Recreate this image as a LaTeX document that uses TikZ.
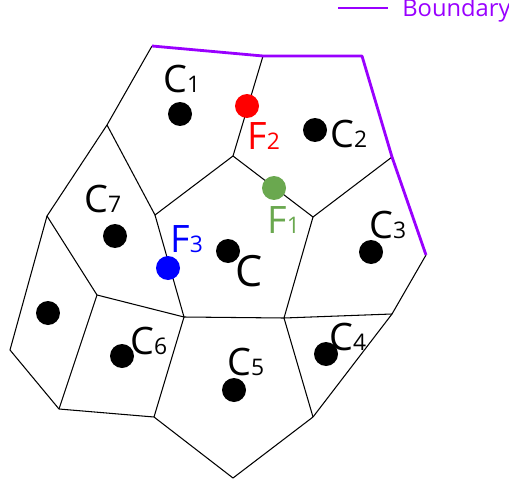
\documentclass[tikz,border=0pt]{standalone}
\usepackage{fontspec}
\setmainfont{Open Sans}
\definecolor{bndviolet}{RGB}{153,0,255}
\definecolor{fgreen}{RGB}{106,168,79}
\newcommand{\sbs}[1]{{\fontsize{13}{13}\selectfont #1}}
\tikzset{
  cell/.style={line width=0.6pt, line join=round},
  bnd/.style={bndviolet, line width=1.6pt, line join=round},
  site/.style={circle, fill=#1, inner sep=0pt, minimum size=0.48cm},
  site/.default=black,
  lbl/.style={anchor=base west, inner sep=0pt, font=\fontsize{21.5}{21.5}\selectfont}
}

\begin{document}
\begin{tikzpicture}[x=0.02cm, y=-0.02cm]
  \useasboundingbox (0,0) rectangle (509,486);
  % vertices of the cells
  \coordinate (a) at (152,46);
  \coordinate (b) at (263,56);
  \coordinate (c) at (362,56);
  \coordinate (d) at (392,157);
  \coordinate (e) at (426,255);
  \coordinate (f) at (392,314);
  \coordinate (g) at (313,417);
  \coordinate (h) at (233,478);
  \coordinate (i) at (154,417);
  \coordinate (j) at (59,409);
  \coordinate (k) at (10,350);
  \coordinate (l) at (47,216);
  \coordinate (m) at (107,125);
  \coordinate (n) at (233,156);
  \coordinate (o) at (313,217);
  \coordinate (p) at (284,318);
  \coordinate (q) at (184,317);
  \coordinate (r) at (155,215);
  \coordinate (s) at (97,295);
  % outer edges
  \draw[cell] (a) -- (m) -- (l) -- (k) -- (j) -- (i) -- (h) -- (g) -- (f) -- (e);
  % inner edges
  \draw[cell] (b) -- (n) -- (r) -- (m);
  \draw[cell] (n) -- (o) -- (d);
  \draw[cell] (o) -- (p) -- (f);
  \draw[cell] (p) -- (g);
  \draw[cell] (p) -- (q) -- (i);
  \draw[cell] (r) -- (q) -- (s) -- (l);
  \draw[cell] (s) -- (j);
  % boundary
  \draw[bnd] (a) -- (b) -- (c) -- (d) -- (e);
  % legend
  \coordinate (lg1) at (338,8);
  \coordinate (lg2) at (388,8);
  \draw[bndviolet, line width=1.2pt] (lg1) -- (lg2);
  \node[anchor=base west, inner sep=0pt, text=bndviolet, font=\fontsize{13.5}{13.5}\selectfont] (legend) at (402,17) {Boundary};
  % sites
  \node[site] (s1) at (180,114) {};
  \node[site] (s2) at (315,130) {};
  \node[site] (s3) at (371,252) {};
  \node[site] (s4) at (326,354) {};
  \node[site] (s5) at (234,390) {};
  \node[site] (s6) at (122,356) {};
  \node[site] (s7) at (115,236) {};
  \node[site] (s8) at (48,313) {};
  \node[site] (s0) at (228,251) {};
  \node[site=red] (f2) at (247,106) {};
  \node[site=fgreen] (f1) at (274,188) {};
  \node[site=blue] (f3) at (168,268) {};
  % labels
  \node[lbl] (lc1) at (163,93) {C\sbs{1}};
  \node[lbl] (lc2) at (330,147) {C\sbs{2}};
  \node[lbl] (lc3) at (369,238) {C\sbs{3}};
  \node[lbl] (lc4) at (329,350) {C\sbs{4}};
  \node[lbl] (lc5) at (227,375) {C\sbs{5}};
  \node[lbl] (lc6) at (130,354) {C\sbs{6}};
  \node[lbl] (lc7) at (84,212) {C\sbs{7}};
  \node[lbl, font=\fontsize{24.5}{24.5}\selectfont] (lc) at (235,286) {C};
  \node[lbl, text=red] (lf2) at (247,150) {F\sbs{2}};
  \node[lbl, text=fgreen] (lf1) at (267,233) {F\sbs{1}};
  \node[lbl, text=blue] (lf3) at (170,252) {F\sbs{3}};
\end{tikzpicture}
\end{document}
